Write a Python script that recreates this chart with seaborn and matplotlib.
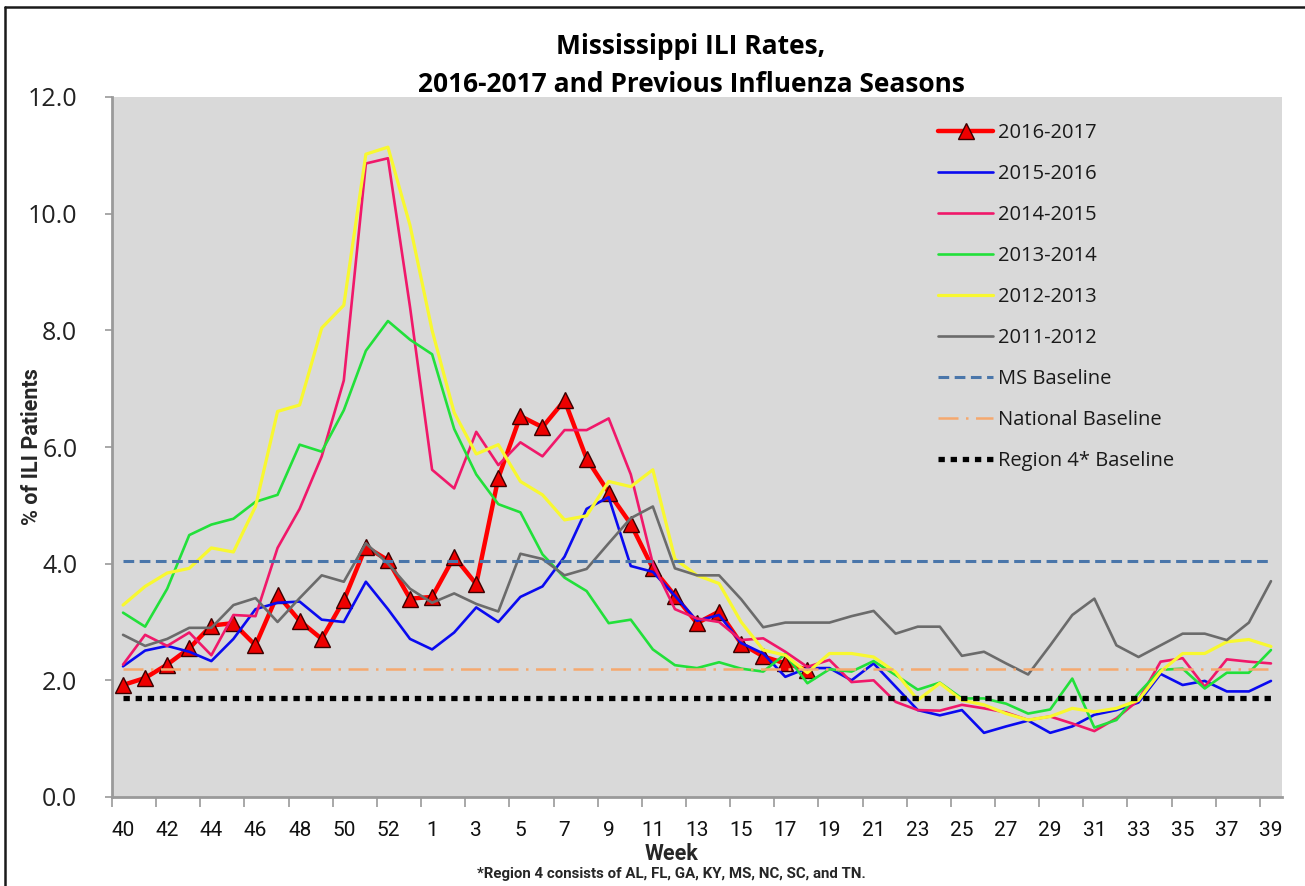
import numpy as np
import pandas as pd
import matplotlib
matplotlib.use("Agg")
import matplotlib.pyplot as plt
import seaborn as sns
from matplotlib.lines import Line2D

# ---------------- data ----------------
weeks = list(range(40, 54)) + list(range(1, 40))   # 53 categories (incl. week 53)

s2016_2017 = [1.92, 2.04, 2.27, 2.55, 2.94, 2.98, 2.60, 3.47, 3.02, 2.71, 3.37, 4.29, 4.06, 3.40,
              3.43, 4.12, 3.65, 5.47, 6.53, 6.34, 6.80, 5.80, 5.22, 4.68, 3.92, 3.45, 2.98, 3.18,
              2.63, 2.41, 2.29, 2.18]

s2015_2016 = [2.24, 2.51, 2.59, 2.49, 2.33, 2.71, 3.22, 3.33, 3.35, 3.04, 3.00, 3.69, 3.22, 2.71,
              2.53, 2.82, 3.25, 3.00, 3.43, 3.61, 4.12, 4.94, 5.14, 3.96, 3.86, 3.45, 3.02, 3.12,
              2.64, 2.46, 2.06, 2.21, 2.21, 2.00, 2.29, 1.89, 1.49, 1.40, 1.49, 1.10, 1.21, 1.31,
              1.10, 1.21, 1.41, 1.49, 1.62, 2.11, 1.92, 1.99, 1.81, 1.81, 1.99]

s2014_2015 = [2.27, 2.78, 2.59, 2.82, 2.43, 3.12, 3.10, 4.27, 4.94, 5.84, 7.14, 10.86, 10.95, 8.40,
              5.61, 5.29, 6.26, 5.69, 6.08, 5.84, 6.29, 6.29, 6.49, 5.53, 4.00, 3.22, 3.06, 3.00,
              2.69, 2.72, 2.49, 2.23, 2.35, 1.97, 2.00, 1.63, 1.49, 1.48, 1.58, 1.52, 1.45, 1.32,
              1.38, 1.26, 1.13, 1.35, 1.66, 2.32, 2.38, 1.89, 2.36, 2.32, 2.29]

s2013_2014 = [3.16, 2.92, 3.57, 4.49, 4.67, 4.77, 5.06, 5.18, 6.04, 5.92, 6.63, 7.65, 8.16, 7.84,
              7.59, 6.31, 5.53, 5.02, 4.88, 4.16, 3.76, 3.53, 2.98, 3.04, 2.53, 2.26, 2.21, 2.31,
              2.20, 2.15, 2.45, 1.95, 2.19, 2.15, 2.33, 2.09, 1.84, 1.96, 1.69, 1.69, 1.60, 1.43,
              1.50, 2.03, 1.19, 1.32, 1.78, 2.18, 2.20, 1.86, 2.13, 2.13, 2.52]

s2012_2013 = [3.29, 3.61, 3.84, 3.92, 4.27, 4.20, 4.98, 6.61, 6.72, 8.04, 8.43, 11.02, 11.14, 9.80,
              8.00, 6.59, 5.88, 6.04, 5.41, 5.18, 4.75, 4.82, 5.41, 5.32, 5.61, 4.08, 3.80, 3.66,
              3.00, 2.52, 2.43, 2.13, 2.46, 2.46, 2.40, 2.14, 1.66, 1.95, 1.66, 1.58, 1.43, 1.32,
              1.38, 1.52, 1.46, 1.52, 1.66, 2.15, 2.46, 2.46, 2.66, 2.70, 2.58]

s2011_2012 = [2.78, 2.59, 2.71, 2.90, 2.90, 3.29, 3.41, 3.00, 3.41, 3.80, 3.69, 4.35, 4.00, 3.57,
              3.33, 3.49, 3.31, 3.18, 4.17, 4.08, 3.80, 3.91, 4.35, 4.78, 4.98, 3.92, 3.80, 3.80,
              3.39, 2.91, 2.99, 2.99, 2.99, 3.10, 3.19, 2.80, 2.92, 2.92, 2.42, 2.49, 2.29, 2.10,
              2.60, 3.12, 3.40, 2.60, 2.40, 2.60, 2.80, 2.80, 2.69, 2.99, 3.70]

ms_baseline = 4.04
national_baseline = 2.2
region4_baseline = 1.7

y_ticks = [0, 2, 4, 6, 8, 10, 12]

# ---------------- figure ----------------
sns.set_theme(style="white")
plt.rcParams["font.family"] = ["Open Sans", "DejaVu Sans"]

W, H = 1305, 886
fig = plt.figure(figsize=(W / 100, H / 100), dpi=100)
fig.patch.set_facecolor("white")
ax = fig.add_axes([112 / W, 1 - 797 / H, (1282 - 112) / W, (797 - 97) / H])
ax.set_facecolor("#D9D9D9")

n = len(weeks)
idx = np.arange(n)

def frame(vals):
    return pd.DataFrame({"pos": idx[:len(vals)], "val": vals})

# season lines (legend order = drawing order)
sns.lineplot(data=frame(s2016_2017), x="pos", y="val", ax=ax, color="#FF0000", lw=3.2,
             marker="^", markersize=11.5, markerfacecolor="#EE0000", markeredgecolor="#3A0000",
             markeredgewidth=1.0, label="2016-2017", estimator=None, sort=False, zorder=3)
sns.lineplot(data=frame(s2015_2016), x="pos", y="val", ax=ax, color="#0A0AF0", lw=1.9,
             label="2015-2016", estimator=None, sort=False, zorder=4)
sns.lineplot(data=frame(s2014_2015), x="pos", y="val", ax=ax, color="#F0186A", lw=1.9,
             label="2014-2015", estimator=None, sort=False, zorder=4)
sns.lineplot(data=frame(s2013_2014), x="pos", y="val", ax=ax, color="#22E03A", lw=1.9,
             label="2013-2014", estimator=None, sort=False, zorder=4)
sns.lineplot(data=frame(s2012_2013), x="pos", y="val", ax=ax, color="#F8F830", lw=2.3,
             label="2012-2013", estimator=None, sort=False, zorder=4)
sns.lineplot(data=frame(s2011_2012), x="pos", y="val", ax=ax, color="#6B6B6B", lw=1.9,
             label="2011-2012", estimator=None, sort=False, zorder=4)

# baselines as full-width series
sns.lineplot(data=frame([ms_baseline] * n), x="pos", y="val", ax=ax, color="#4A76AA", lw=2.2,
             label="MS Baseline", estimator=None, sort=False, zorder=5)
ax.lines[-1].set_dashes((3.5, 1.8))
sns.lineplot(data=frame([national_baseline] * n), x="pos", y="val", ax=ax, color="#F5A86E", lw=1.8,
             label="National Baseline", estimator=None, sort=False, zorder=5)
ax.lines[-1].set_dashes((8, 3, 1, 3))
sns.lineplot(data=frame([region4_baseline] * n), x="pos", y="val", ax=ax, color="#000000", lw=3.8,
             label="Region 4* Baseline", estimator=None, sort=False, zorder=5)
ax.lines[-1].set_dashes((1.2, 1.1))
ax.lines[-1].set_dash_capstyle("butt")

# ---------------- axes ----------------
ax.set_xlim(-0.5, n - 0.5)
ax.set_ylim(0, 12)
ax.set_yticks(y_ticks)
ax.set_yticklabels([f"{v:.1f}" for v in y_ticks], fontsize=18, color="#222222")
ax.tick_params(axis="y", which="major", direction="out", length=5, width=1.2, color="#9A9A9A",
               left=True, pad=20)

# tick marks between categories every 2, labels every 2 categories
ax.set_xticks(np.arange(-0.5, n - 0.5, 2))
ax.set_xticklabels([])
ax.set_xticks(idx[::2], minor=True)
ax.set_xticklabels([str(w) for w in weeks][::2], minor=True,
                   fontsize=15, family=["Liberation Sans Narrow", "Roboto", "DejaVu Sans"],
                   color="#111111")
ax.tick_params(axis="x", which="major", direction="out", length=7, width=1.2, color="#9A9A9A",
               bottom=True)
ax.tick_params(axis="x", which="minor", length=0, pad=17)
ax.set_xlabel("")
ax.set_ylabel("")

for side in ["top", "right"]:
    ax.spines[side].set_visible(False)
for side in ["left", "bottom"]:
    ax.spines[side].set_color("#9A9A9A")
    ax.spines[side].set_linewidth(2)

leg = ax.legend(loc="upper left", bbox_to_anchor=((938 - 112) / 1170, (797 - 123) / 700),
                frameon=False, fontsize=14.5, handlelength=2.75, handletextpad=0.25,
                labelspacing=1.04, borderpad=0, borderaxespad=0)
for t in leg.get_texts():
    t.set_color("#1a1a1a")

# ---------------- texts ----------------
fig.text(691 / W, 1 - 47 / H, "Mississippi ILI Rates,", ha="center", va="center",
         fontsize=19, fontweight="bold", color="black")
fig.text(691 / W, 1 - 84 / H, "2016-2017 and Previous Influenza Seasons", ha="center", va="center",
         fontsize=19, fontweight="bold", color="black")
cond = ["Liberation Sans Narrow", "Roboto", "DejaVu Sans"]
fig.text(32 / W, 1 - 447 / H, "% of ILI Patients", rotation=90, ha="center", va="center",
         fontsize=15.5, fontweight="bold", family=cond)
fig.text(671 / W, 1 - 854 / H, "Week", ha="center", va="center",
         fontsize=15.5, fontweight="bold", family=cond)
fig.text(671 / W, 1 - 874 / H, "*Region 4 consists of AL, FL, GA, KY, MS, NC, SC, and TN.",
         ha="center", va="center", fontsize=10.8, fontweight="bold", family=cond)

# chart-area border (left and top edges visible)
fig.add_artist(Line2D([5 / W, 5 / W], [0, 1 - 7 / H], transform=fig.transFigure,
                      color="#1a1a1a", lw=1.8))
fig.add_artist(Line2D([5 / W, 1], [1 - 7 / H, 1 - 7 / H], transform=fig.transFigure,
                      color="#1a1a1a", lw=1.8))

fig.savefig("out.png", dpi=100)
